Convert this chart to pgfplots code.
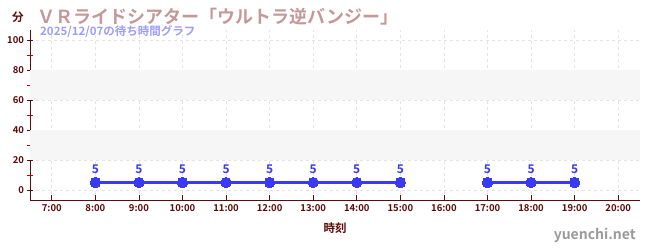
\documentclass[border=0pt]{standalone}
\usepackage{fontspec}
\setmainfont{Noto Sans CJK JP Bold}
\usepackage{pgfplots}
\pgfplotsset{compat=1.18}
\definecolor{axmaroon}{HTML}{5C0A0A}
\definecolor{titlerose}{HTML}{C49898}
\definecolor{subblue}{HTML}{9C9CFF}
\definecolor{lineblue}{HTML}{3A3AF2}
\definecolor{gridgray}{HTML}{E4E4E4}
\definecolor{bandgray}{HTML}{F6F6F6}
\definecolor{markgray}{HTML}{9A9A9A}
\pgfplotsset{
  waitline/.style={lineblue, line width=3pt, mark=*, mark size=5.2pt,
    mark options={fill=lineblue, draw=lineblue, line width=0pt}},
  waitlabel/.style={draw=none, mark=none,
    nodes near coords={\pgfmathprintnumber[assume math mode=true]{\pgfplotspointmeta}},
    every node near coord/.style={font=\fontsize{12}{13}\selectfont, text=lineblue, anchor=south, yshift=5pt}},
}
\begin{document}
\begin{tikzpicture}[x=1pt,y=1pt]
\path (0,0) rectangle (650,250);
\begin{axis}[
  at={(30pt,50pt)}, anchor=south west,
  scale only axis, width=610pt, height=170pt,
  xmin=6.5, xmax=20.5, ymin=-6.67, ymax=106.67,
  axis x line*=bottom, axis y line*=left,
  axis line style={axmaroon, line width=1pt},
  /pgf/number format/assume math mode=true,
  xtick={7,...,20},
  xticklabels={7:00,8:00,9:00,10:00,11:00,12:00,13:00,14:00,15:00,16:00,17:00,18:00,19:00,20:00},
  ytick={0,20,...,100},
  minor ytick={10,30,...,90},
  x tick style={axmaroon, line width=0.8pt},
  y tick style={axmaroon, line width=0.8pt},
  minor y tick style={red!80!black, line width=0.8pt},
  xtick align=inside, ytick align=center,
  major tick length=5pt, minor tick length=5pt,
  grid=major,
  major grid style={gridgray, dashed, line width=0.6pt},
  tick label style={font=\fontsize{9.5}{10}\selectfont, text=axmaroon},
  xticklabel style={yshift=-1pt},
  xlabel={時刻}, xlabel style={font=\fontsize{11.5}{12}\selectfont, text=axmaroon, yshift=-4pt},
  clip=false,
]
% alternating horizontal bands
\fill[bandgray] (axis cs:6.5,20) rectangle (axis cs:20.5,40);
\fill[bandgray] (axis cs:6.5,60) rectangle (axis cs:20.5,80);
\addplot[waitline] coordinates {(8,5) (9,5) (10,5) (11,5) (12,5) (13,5) (14,5) (15,5)};
\addplot[waitline] coordinates {(17,5) (18,5) (19,5)};
% value labels
\addplot[waitlabel] coordinates {(8,5) (9,5) (10,5) (11,5) (12,5) (13,5) (14,5) (15,5)};
\addplot[waitlabel] coordinates {(17,5) (18,5) (19,5)};
\end{axis}
\node[anchor=center, text=axmaroon, font=\fontsize{11.5}{12}\selectfont] at (18,233) {分};
\node[anchor=west, text=titlerose, font=\fontsize{18}{20}\selectfont, inner sep=0pt] at (37,233) {ＶＲライドシアター「ウルトラ逆バンジー」};
\node[anchor=west, text=subblue, font=\fontsize{11.5}{12}\selectfont, inner sep=0pt] at (40,218) {2025/12/07の待ち時間グラフ};
\node[anchor=east, text=markgray, font=\fontsize{14}{15}\selectfont, inner sep=0pt] at (636,15) {yuenchi.net};
\end{tikzpicture}
\end{document}
